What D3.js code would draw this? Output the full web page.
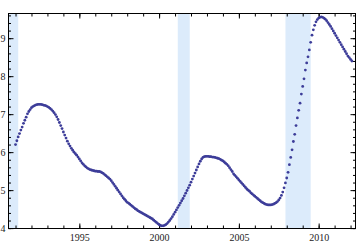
<!DOCTYPE html>
<html>
<head>
<meta charset="utf-8">
<script src="https://cdn.jsdelivr.net/npm/d3@7"></script>
<style>
  html, body { margin: 0; padding: 0; background: #fff; }
  svg { display: block; }
  .tick text { font-family: "Liberation Serif", "DejaVu Serif", serif; font-size: 10px; fill: #222; }
</style>
</head>
<body>
<svg id="chart" width="360" height="244"></svg>
<script>
// ---- data (monthly, starting January 1991) ----
const startYear = 1991;
const rate = [
  6.20, 6.30, 6.40, 6.49, 6.58, 6.66, 6.76, 6.84, 6.92, 7.01, 7.07, 7.12,
  7.17, 7.20, 7.22, 7.24, 7.25, 7.26, 7.26, 7.26, 7.25, 7.24, 7.23, 7.22,
  7.20, 7.18, 7.15, 7.12, 7.08, 7.04, 6.99, 6.93, 6.86, 6.78, 6.70, 6.62,
  6.53, 6.45, 6.37, 6.29, 6.22, 6.16, 6.10, 6.05, 6.00, 5.96, 5.92, 5.87,
  5.82, 5.77, 5.72, 5.68, 5.64, 5.61, 5.58, 5.56, 5.54, 5.53, 5.52, 5.51,
  5.50, 5.50, 5.49, 5.49, 5.48, 5.46, 5.44, 5.41, 5.38, 5.35, 5.32, 5.29,
  5.25, 5.20, 5.15, 5.10, 5.05, 5.00, 4.95, 4.90, 4.85, 4.80, 4.76, 4.72,
  4.68, 4.66, 4.63, 4.60, 4.57, 4.54, 4.51, 4.49, 4.46, 4.44, 4.42, 4.40,
  4.38, 4.36, 4.34, 4.32, 4.30, 4.28, 4.26, 4.24, 4.21, 4.18, 4.15, 4.12,
  4.09, 4.07, 4.06, 4.06, 4.07, 4.09, 4.12, 4.16, 4.20, 4.25, 4.30, 4.36,
  4.42, 4.48, 4.54, 4.60, 4.66, 4.72, 4.78, 4.85, 4.92, 4.99, 5.06, 5.13,
  5.21, 5.29, 5.37, 5.45, 5.53, 5.61, 5.69, 5.76, 5.82, 5.86, 5.88, 5.89,
  5.89, 5.89, 5.88, 5.88, 5.87, 5.87, 5.86, 5.85, 5.84, 5.83, 5.81, 5.79,
  5.77, 5.74, 5.71, 5.68, 5.64, 5.59, 5.54, 5.49, 5.43, 5.39, 5.35, 5.31,
  5.27, 5.23, 5.19, 5.15, 5.11, 5.07, 5.03, 5.00, 4.97, 4.93, 4.90, 4.87,
  4.84, 4.81, 4.78, 4.75, 4.72, 4.69, 4.67, 4.65, 4.63, 4.62, 4.61, 4.61,
  4.61, 4.62, 4.63, 4.65, 4.67, 4.70, 4.74, 4.79, 4.86, 4.95, 5.06, 5.19,
  5.32, 5.47, 5.67, 5.86, 6.06, 6.28, 6.47, 6.70, 6.90, 7.10, 7.29, 7.53,
  7.73, 7.93, 8.16, 8.35, 8.51, 8.69, 8.89, 9.08, 9.22, 9.34, 9.43, 9.49,
  9.53, 9.55, 9.56, 9.55, 9.53, 9.50, 9.46, 9.41, 9.36, 9.31, 9.25, 9.19,
  9.13, 9.07, 9.01, 8.95, 8.89, 8.83, 8.77, 8.71, 8.65, 8.59, 8.53, 8.49,
  8.44, 8.40
];
const recessionStart = [1990.50, 2001.17, 2007.92];
const recessionEnd   = [1991.17, 2001.92, 2009.50];
const xMajorTicks = [1995, 2000, 2005, 2010];
const xMinorTicks = d3.range(1991, 2013);
const yMajorTicks = [4, 5, 6, 7, 8, 9];
const yMinorTicks = d3.range(40, 97, 2).map(d => d / 10);

// ---- layout ----
const svg = d3.select("#chart");
const L = 8.5, R = 355.5, T = 13.5, B = 228.5;
const x = d3.scaleLinear().domain([1990.56, 2012.31]).range([L, R]);
const y = d3.scaleLinear().domain([3.99, 9.65]).range([B, T]);

svg.append("rect").attr("width", 360).attr("height", 244).attr("fill", "#fff");

const clip = svg.append("defs").append("clipPath").attr("id", "plotclip");
clip.append("rect").attr("x", L).attr("y", T).attr("width", R - L).attr("height", B - T);

// recession shading
svg.append("g").attr("clip-path", "url(#plotclip)")
  .selectAll("rect").data(recessionStart.map((s, i) => [s, recessionEnd[i]]))
  .join("rect")
  .attr("x", d => x(d[0])).attr("width", d => x(d[1]) - x(d[0]))
  .attr("y", T).attr("height", B - T)
  .attr("fill", "#dcebfb");

// axes helpers
function styleAxis(g) {
  g.select(".domain").remove();
  g.selectAll(".tick line").attr("stroke", "#000").attr("stroke-width", 1);
}
// bottom
svg.append("g").attr("transform", `translate(0,${B})`)
  .call(d3.axisBottom(x).tickValues(xMinorTicks).tickSizeInner(-3).tickSizeOuter(0).tickFormat(""))
  .call(styleAxis);
svg.append("g").attr("transform", `translate(0,${B})`)
  .call(d3.axisBottom(x).tickValues(xMajorTicks).tickSizeInner(-5).tickSizeOuter(0).tickPadding(5).tickFormat(d3.format("d")))
  .call(styleAxis);
// top
svg.append("g").attr("transform", `translate(0,${T})`)
  .call(d3.axisTop(x).tickValues(xMinorTicks).tickSizeInner(-3).tickSizeOuter(0).tickFormat(""))
  .call(styleAxis);
svg.append("g").attr("transform", `translate(0,${T})`)
  .call(d3.axisTop(x).tickValues(xMajorTicks).tickSizeInner(-5).tickSizeOuter(0).tickFormat(""))
  .call(styleAxis);
// left
svg.append("g").attr("transform", `translate(${L},0)`)
  .call(d3.axisLeft(y).tickValues(yMinorTicks).tickSizeInner(-2.5).tickSizeOuter(0).tickFormat(""))
  .call(styleAxis);
svg.append("g").attr("transform", `translate(${L},0)`)
  .call(d3.axisLeft(y).tickValues(yMajorTicks).tickSizeInner(-5).tickSizeOuter(0).tickPadding(3).tickFormat(d3.format("d")))
  .call(styleAxis);
// right
svg.append("g").attr("transform", `translate(${R},0)`)
  .call(d3.axisRight(y).tickValues(yMinorTicks).tickSizeInner(-2.5).tickSizeOuter(0).tickFormat(""))
  .call(styleAxis);
svg.append("g").attr("transform", `translate(${R},0)`)
  .call(d3.axisRight(y).tickValues(yMajorTicks).tickSizeInner(-5).tickSizeOuter(0).tickFormat(""))
  .call(styleAxis);

// frame
svg.append("rect").attr("x", L).attr("y", T).attr("width", R - L).attr("height", B - T)
  .attr("fill", "none").attr("stroke", "#000").attr("stroke-width", 1);

// points
svg.append("g").attr("clip-path", "url(#plotclip)")
  .selectAll("circle").data(rate)
  .join("circle")
  .attr("cx", (d, i) => x(startYear + i / 12))
  .attr("cy", d => y(d))
  .attr("r", 1.4)
  .attr("fill", "#3d3d99");
</script>
</body>
</html>
